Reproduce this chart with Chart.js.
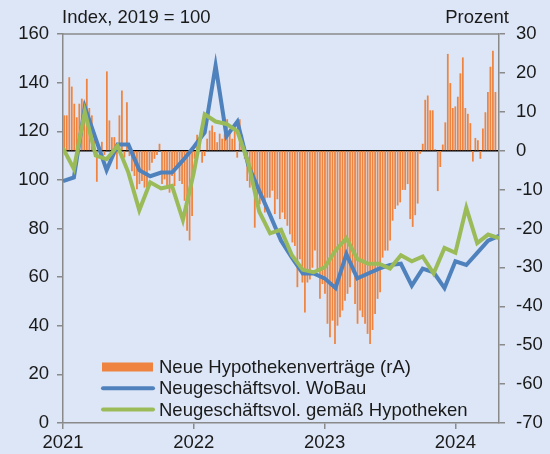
<!DOCTYPE html>
<html>
<head>
<meta charset="utf-8">
<script src="https://cdn.jsdelivr.net/npm/chart.js@4.4.0/dist/chart.umd.min.js"></script>
<style>
  html, body { margin: 0; padding: 0; background: #DCE6F6; }
  #wrap { width: 550px; height: 454px; }
</style>
</head>
<body>
<div id="wrap"><canvas id="myChart" width="550" height="454"></canvas></div>
<script>
// Monatswerte ab Jan 2021 (Index, 2019 = 100)
var woBau = [99.5, 101, 130, 117, 104, 114.5, 114.5, 104, 101.5, 103, 103, 108,
  113.5, 119.5, 147, 118, 124, 106, 95.5, 85.5, 75, 68, 61.5, 61.5,
  59.5, 55.5, 69.5, 59.5, 61.5, 63.5, 65, 65.5, 56.5, 63.5, 62, 55.5,
  66.5, 65, 70, 75, 77];
var hypoVol = [113, 104.5, 128, 110, 108.5, 114, 103, 87.5, 99, 96.5, 97.5, 83.5,
  103, 127, 124, 123, 120, 107, 87, 78, 79.5, 69, 63, 62,
  64, 71, 76, 67.5, 65.5, 65.5, 63.5, 69, 66.5, 68.5, 61.5, 72,
  70, 88.5, 74, 77.5, 76];
// Wochenwerte ab Jan 2021, Veränderung in Prozent (rechte Achse)
var neueVertraege = [9, 9, 18.8, 16.4, 12, 8.5, 12, 13.3, 12.6, 18.4, 10.9, 9, 4.7, -7.9, 1, 2.2,
  -1, 20.3, 7.7, 3.4, 3.4, -4.7, 9, 15.4, -1.7, 12.4, -1.3, -5.2, -6.4, -9.8, -8.5, -7.7,
  -9.4, -9.8, -5, -3, -2, -1, 1.7, -8.5, -7.3, -9.4, -10.7, -6.4, -9, -3.9, -7.7, -8.5,
  -12.8, -20.5, -23, -16.7, -2, 4, 3.4, -3, -1.3, 3, 5.1, 6.4, 4.7, 2.1, 4.3,
  3, 4.3, 8, 5, 3, 6, -1.7, 8, 4, -2,
  -7.7, -9.4, -8, -19.7, -13.2, -13.7, -12.4, -15.8, -12, -12,
  -10.2, -16.2, -12.4, -17.5, -15.8, -17.5, -19.2, -21.4, -23.5, -24.4,
  -35, -27.8, -33.8, -41.5, -33.8, -33, -30, -25.6, -30.8, -38,
  -34.2, -36.7, -44.4, -47.9, -43.6, -49.6, -44.9, -42.7, -41, -38.5,
  -36.7, -35, -31.2, -39.3, -44.4, -41, -42.7, -44.4, -47, -49.6,
  -46, -41.9, -38, -36.3, -27.4, -25.6, -25.6, -23, -17.9, -14.9,
  -14, -13.2, -10, -10, -8.5, -17.5, -19.5, -16.5, -13.5,
  -0.7, 1.7, 13, 14.1, 10.3, 10.3, 0.3, -10.3, -4.1, 1.5, 7.2, 24.8, 17.3, 10.9, 11.3, 13.8,
  19.8, 23.9, 10.9, 9.4, 7, -2.7, 3.2, 2.6, -2, 5.6, 9.8, 15, 21.5, 25.6, 15];

var startYear = 2021;
var yearTicks = [2021, 2022, 2023, 2024];
var leftTitle = 'Index, 2019 = 100';
var rightTitle = 'Prozent';
var seriesNames = ['Neue Hypothekenverträge (rA)', 'Neugeschäftsvol. WoBau', 'Neugeschäftsvol. gemäß Hypotheken'];

var fontFam = '"Liberation Sans", Arial, sans-serif';
var fontSize = 18.5;
var grau = '#8a8a8a';

function monatlich(arr) {
  return arr.map(function (v, i) { return { x: startYear + i / 12, y: v }; });
}
function woechentlich(arr) {
  return arr.map(function (v, i) { return { x: startYear + (i + 0.5) * 7 / 365.25, y: v }; });
}

var hintergrund = {
  id: 'hintergrund',
  beforeDraw: function (chart) {
    var c = chart.ctx;
    c.save();
    c.fillStyle = '#DCE6F6';
    c.fillRect(0, 0, chart.width, chart.height);
    c.restore();
  }
};

var extras = {
  id: 'extras',
  afterDraw: function (chart) {
    var c = chart.ctx, a = chart.chartArea;
    c.save();
    // obere Rahmenlinie
    c.strokeStyle = grau;
    c.lineWidth = 1.5;
    c.beginPath();
    c.moveTo(a.left, a.top);
    c.lineTo(a.right, a.top);
    c.stroke();
    // Achsentitel
    c.fillStyle = '#1a1a1a';
    c.font = fontSize + 'px ' + fontFam;
    c.textBaseline = 'middle';
    c.textAlign = 'left';
    c.fillText(leftTitle, a.left - 1, 18);
    c.textAlign = 'right';
    c.fillText(rightTitle, a.right + 10, 18);
    // Legende
    var ds = chart.data.datasets;
    var lx = 102, ly = 367, step = 21.3;
    c.textAlign = 'left';
    for (var i = 0; i < ds.length; i++) {
      var y = ly + i * step;
      if (ds[i].type === 'bar' || !ds[i].type) {
        c.fillStyle = ds[i].backgroundColor;
        c.fillRect(lx, y - 4.5, 51, 9);
      } else {
        c.strokeStyle = ds[i].borderColor;
        c.lineWidth = 4;
        c.lineCap = 'round';
        c.beginPath();
        c.moveTo(lx + 1, y);
        c.lineTo(lx + 51, y);
        c.stroke();
      }
      c.fillStyle = '#1a1a1a';
      c.fillText(ds[i].label, lx + 57, y + 1);
    }
    c.restore();
  }
};

var ctx = document.getElementById('myChart');
var myChart = new Chart(ctx, {
  type: 'bar',
  data: {
    datasets: [{
      type: 'bar',
      label: seriesNames[0],
      data: woechentlich(neueVertraege),
      backgroundColor: '#EE8440',
      barThickness: 1.1,
      yAxisID: 'y1',
      order: 3
    }, {
      type: 'line',
      label: seriesNames[1],
      data: monatlich(woBau),
      borderColor: '#4F81BD',
      borderWidth: 4,
      pointRadius: 0,
      tension: 0,
      yAxisID: 'y',
      order: 2
    }, {
      type: 'line',
      label: seriesNames[2],
      data: monatlich(hypoVol),
      borderColor: '#9BBB59',
      borderWidth: 4,
      pointRadius: 0,
      tension: 0,
      yAxisID: 'y',
      order: 1
    }]
  },
  options: {
    responsive: false,
    animation: false,
    layout: { padding: { top: 34, left: 0, right: 0, bottom: 0 } },
    plugins: {
      legend: { display: false },
      tooltip: { enabled: false }
    },
    scales: {
      x: {
        type: 'linear',
        offset: false,
        min: startYear,
        max: startYear + 40 / 12,
        afterBuildTicks: function (s) {
          s.ticks = yearTicks.map(function (v) { return { value: v }; });
        },
        afterFit: function (s) { s.height = 31; },
        ticks: {
          color: '#1a1a1a',
          font: { size: fontSize, family: fontFam },
          padding: 3,
          maxRotation: 0,
          callback: function (v) { return String(v); }
        },
        grid: { offset: false, drawOnChartArea: false, tickLength: 6, tickColor: grau, lineWidth: 1.5 },
        border: { color: grau, width: 1.5 }
      },
      y: {
        position: 'left',
        min: 0,
        max: 160,
        afterFit: function (s) { s.width = 63; },
        ticks: {
          stepSize: 20,
          color: '#1a1a1a',
          font: { size: fontSize, family: fontFam },
          padding: 8
        },
        grid: { drawOnChartArea: false, tickLength: 6, tickColor: grau, lineWidth: 1.5 },
        border: { color: grau, width: 1.5 }
      },
      y1: {
        position: 'right',
        min: -70,
        max: 30,
        afterFit: function (s) { s.width = 51; },
        ticks: {
          stepSize: 10,
          color: '#1a1a1a',
          font: { size: fontSize, family: fontFam },
          padding: 11
        },
        grid: {
          drawOnChartArea: true,
          color: function (c) { return c.tick && c.tick.value === 0 ? '#000000' : 'rgba(0,0,0,0)'; },
          tickColor: grau,
          tickLength: 6,
          lineWidth: 1.5
        },
        border: { color: grau, width: 1.5 }
      }
    }
  },
  plugins: [hintergrund, extras]
});
</script>
</body>
</html>
